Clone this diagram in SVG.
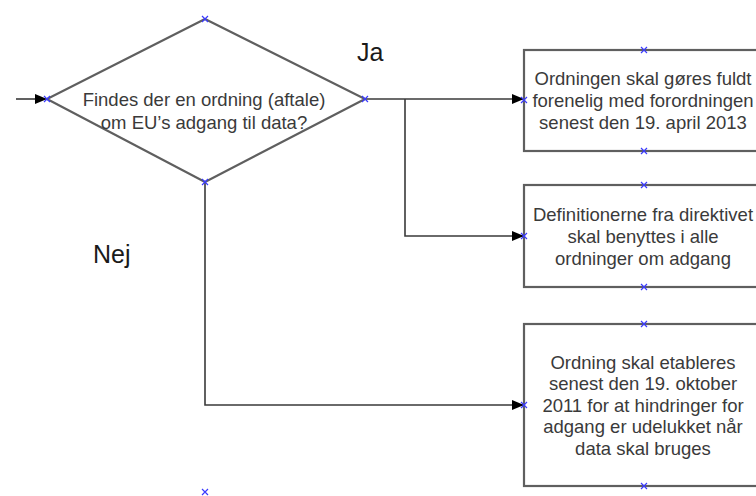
<svg xmlns="http://www.w3.org/2000/svg" width="756" height="496" viewBox="0 0 756 496">
<style>
.shape{fill:#ffffff;stroke:#5f5f5f;stroke-width:2.2}
.conn{fill:none;stroke:#3a3a3a;stroke-width:1.6}
.t{font-family:"Liberation Sans",Arial,sans-serif;font-size:18.5px;fill:#3a3a3a;text-anchor:middle}
.lbl{font-family:"Liberation Sans",Arial,sans-serif;font-size:25px;fill:#1a1a1a}
.cp{stroke:#3a3aff;stroke-width:1.2;fill:none}
</style>
<defs>
<marker id="arr" viewBox="0 0 12 10" refX="12" refY="5" markerWidth="12" markerHeight="10" markerUnits="userSpaceOnUse" orient="auto">
<path d="M0,0 L12,5 L0,10 z" fill="#000000"/>
</marker>
<path id="x" d="M-3,-3 L3,3 M-3,3 L3,-3" class="cp"/>
</defs>
<g id="connectors">
<path class="conn" d="M16,99 H47" marker-end="url(#arr)"/>
<path class="conn" d="M365,99 H524" marker-end="url(#arr)"/>
<path class="conn" d="M405,99 V236 H524" marker-end="url(#arr)"/>
<path class="conn" d="M205,182 V405 H524" marker-end="url(#arr)"/>
</g>
<g id="decision">
<polygon class="shape" points="205,19 365,99 205,182 47,99"/>
<text class="t" x="204" y="105.5">Findes der en ordning (aftale)</text>
<text class="t" x="204" y="129">om EU’s adgang til data?</text>
<use href="#x" x="205" y="19"/><use href="#x" x="47" y="99"/><use href="#x" x="365" y="99"/><use href="#x" x="205" y="182"/>
</g>
<g id="box1">
<rect class="shape" x="524" y="50" width="240" height="101"/>
<text class="t" x="643" y="84.5">Ordningen skal gøres fuldt</text>
<text class="t" x="643" y="106.5">forenelig med forordningen</text>
<text class="t" x="643" y="128.5">senest den 19. april 2013</text>
<use href="#x" x="644" y="50"/><use href="#x" x="524" y="100"/><use href="#x" x="644" y="151"/>
</g>
<g id="box2">
<rect class="shape" x="524" y="185" width="240" height="102"/>
<text class="t" x="643" y="220.5">Definitionerne fra direktivet</text>
<text class="t" x="643" y="242.5">skal benyttes i alle</text>
<text class="t" x="643" y="264.5">ordninger om adgang</text>
<use href="#x" x="644" y="185"/><use href="#x" x="524" y="236"/><use href="#x" x="644" y="287"/>
</g>
<g id="box3">
<rect class="shape" x="524" y="324" width="240" height="162"/>
<text class="t" x="643" y="368.5">Ordning skal etableres</text>
<text class="t" x="643" y="390">senest den 19. oktober</text>
<text class="t" x="643" y="411.5">2011 for at hindringer for</text>
<text class="t" x="643" y="433">adgang er udelukket når</text>
<text class="t" x="643" y="454.5">data skal bruges</text>
<use href="#x" x="644" y="324"/><use href="#x" x="524" y="405"/><use href="#x" x="644" y="486"/>
</g>
<g id="labels">
<text class="lbl" x="357" y="61">Ja</text>
<text class="lbl" x="93" y="263">Nej</text>
</g>
<use href="#x" x="205" y="492"/>
</svg>
